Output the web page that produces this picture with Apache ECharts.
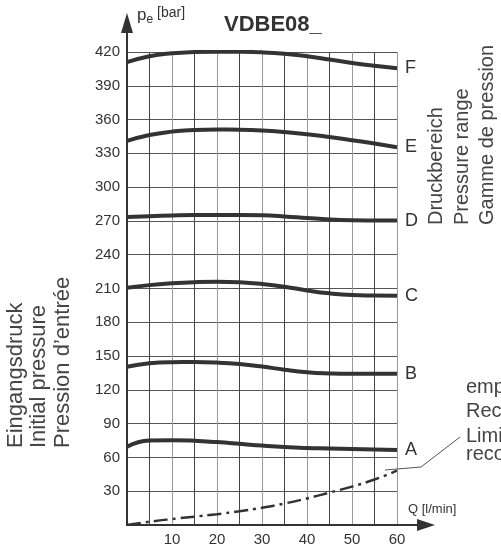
<!DOCTYPE html>
<html>
<head>
<meta charset="utf-8">
<script src="https://cdn.jsdelivr.net/npm/echarts@6/dist/echarts.min.js"></script>
<style>html,body{margin:0;padding:0;background:#fff;}#c{width:501px;height:547px;}</style>
</head>
<body>
<div id="c"></div>
<script>
// ---- data ----
const flowQ = [0, 5, 10, 15, 20, 25, 30, 35, 40, 45, 50, 55, 60];
const curveNames = ['A', 'B', 'C', 'D', 'E', 'F'];
const pressA = [69.5, 75, 75.3, 74.8, 73.6, 72.1, 70.5, 69.2, 68.4, 68, 67.5, 67, 66.6];
const pressB = [140.5, 143.6, 144.6, 144.7, 144.2, 142.9, 140.7, 137.9, 135.7, 134.6, 134.2, 134.2, 134.2];
const pressC = [210.6, 213, 214.6, 215.6, 216, 215.5, 214, 211.6, 208.3, 205.7, 204.2, 203.8, 203.6];
const pressD = [273.5, 274.2, 274.8, 275.2, 275.3, 275.3, 275, 274, 272.6, 271.3, 270.6, 270.4, 270.3];
const pressE = [341, 346.3, 349.3, 350.8, 351.1, 351, 350.4, 349, 347, 344.5, 341.7, 338.7, 335.5];
const pressF = [411, 416.3, 418.9, 420, 420.3, 420.2, 419.7, 418.4, 416.2, 413.3, 410.3, 407.7, 405.5];
const limitCurve = [0, 2.9, 5.3, 7.4, 9.6, 12.2, 15.3, 19.1, 23.6, 28.8, 34.1, 40.4, 48.2];
const xTickLabels = [10, 20, 30, 40, 50, 60];
const yTickLabels = [30, 60, 90, 120, 150, 180, 210, 240, 270, 300, 330, 360, 390, 420];

const FONT = '"Liberation Sans", Arial, sans-serif';
const INK = '#333';

const chart = echarts.init(document.getElementById('c'), null, {renderer: 'canvas'});
const curves = [pressA, pressB, pressC, pressD, pressE, pressF];
const pair = arr => flowQ.map((q, i) => [q, arr[i]]);

const series = curves.map((arr, k) => ({
  type: 'line', name: curveNames[k], data: pair(arr), smooth: 0.5,
  showSymbol: false, silent: true,
  lineStyle: {color: INK, width: 4},
  endLabel: {show: true, formatter: curveNames[k], distance: 8, fontSize: 18,
    fontFamily: FONT, color: INK}
}));
series.push({
  type: 'line', name: 'limit', data: pair(limitCurve), smooth: 0.5,
  showSymbol: false, silent: true,
  lineStyle: {color: INK, width: 2.5, type: [14, 5, 3, 5]}
});

chart.setOption({
  animation: false,
  title: {text: 'VDBE08_', left: 219, top: 9,
    textStyle: {fontFamily: FONT, fontWeight: 'bold', fontSize: 22, color: INK}},
  grid: {left: 127, right: 104, top: 52, bottom: 22, containLabel: false},
  xAxis: {
    type: 'value', min: 0, max: 60, interval: 5,
    axisLine: {onZero: false, lineStyle: {color: INK, width: 2}},
    axisTick: {show: false},
    axisLabel: {margin: 7, fontSize: 15, fontFamily: FONT, color: INK,
      formatter: v => xTickLabels.includes(v) ? String(v) : ''},
    splitLine: {show: true, showMinLine: false, lineStyle: {color: ['#444', '#999'], width: 1}}
  },
  yAxis: {
    type: 'value', min: 0, max: 420, interval: 30,
    axisLine: {onZero: false, lineStyle: {color: INK, width: 2}},
    axisTick: {show: false},
    axisLabel: {margin: 7, fontSize: 15, fontFamily: FONT, color: INK,
      formatter: v => yTickLabels.includes(v) ? String(v) : ''},
    splitLine: {show: true, showMinLine: false, lineStyle: {color: '#555', width: 1}}
  },
  series: series
});

// axis extensions, arrows, annotation texts
const o = chart.convertToPixel({gridIndex: 0}, [0, 0]);
const tr = chart.convertToPixel({gridIndex: 0}, [60, 420]);
const noteStyle = t => ({text: t, fontSize: 20, fontFamily: FONT, fill: '#444'});
chart.setOption({
  graphic: [
    {type: 'line', shape: {x1: o[0], y1: tr[1], x2: o[0], y2: 33}, style: {stroke: INK, lineWidth: 2}},
    {type: 'polygon', shape: {points: [[o[0], 13], [o[0] - 6, 33], [o[0] + 6, 33]]}, style: {fill: INK}},
    {type: 'line', shape: {x1: tr[0], y1: o[1], x2: 417, y2: o[1]}, style: {stroke: INK, lineWidth: 2}},
    {type: 'polygon', shape: {points: [[435, o[1]], [417, o[1] - 6], [417, o[1] + 6]]}, style: {fill: INK}},
    {type: 'text', x: 137, y: 4, style: {
      text: '{p|p}{s|e}{b| [bar]}', fontFamily: FONT, fill: INK,
      rich: {p: {fontSize: 17, fontFamily: FONT, fill: INK},
             s: {fontSize: 12, fontFamily: FONT, fill: INK, padding: [10, 0, 0, 0]},
             b: {fontSize: 14, fontFamily: FONT, fill: INK, padding: [0, 0, 4, 0]}}}},
    {type: 'text', x: 408, y: 503, style: {text: 'Q [l/min]', fontSize: 13, fontFamily: FONT, fill: INK}},
    {type: 'text', x: 4, y: 448, rotation: Math.PI / 2, style: {
      text: 'Eingangsdruck\nInitial pressure\nPression d\u2019entrée', fontSize: 22, lineHeight: 23.5,
      fontFamily: FONT, fill: '#444', align: 'left', verticalAlign: 'top'}},
    {type: 'text', x: 424, y: 225, rotation: Math.PI / 2, style: {
      text: 'Druckbereich\nPressure range\nGamme de pression', fontSize: 20, lineHeight: 25.5,
      fontFamily: FONT, fill: '#444', align: 'left', verticalAlign: 'top'}},
    {type: 'text', x: 466, y: 377, style: noteStyle('empfohlener Bereich')},
    {type: 'text', x: 466, y: 401, style: noteStyle('Recommended range')},
    {type: 'text', x: 466, y: 426, style: noteStyle('Limite de la zone')},
    {type: 'text', x: 466, y: 444, style: noteStyle('recommandée')},
    {type: 'polyline', shape: {points: [[385, 470], [421, 467], [460, 437]]}, style: {stroke: '#555', lineWidth: 1, fill: null}}
  ]
});
</script>
</body>
</html>
